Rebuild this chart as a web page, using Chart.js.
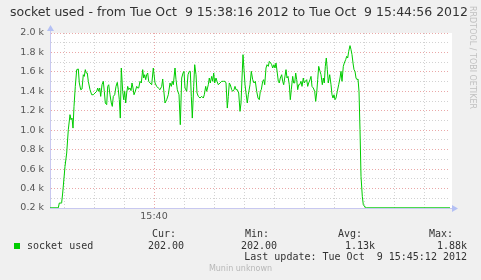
<!DOCTYPE html>
<html>
<head>
<meta charset="utf-8">
<script src="https://cdn.jsdelivr.net/npm/chart.js@4/dist/chart.umd.min.js"></script>
<style>
  html, body { margin: 0; padding: 0; background: #f0f0f0; }
  #grafSock { display: block; }
</style>
</head>
<body>
<canvas id="grafSock" width="481" height="280"></canvas>
<script>
// seconds since 15:38:16
const secs = [
  0, 8.3, 9.3, 11, 11.7, 12.7, 15, 16.7, 18.3, 20,
  21, 22, 23, 24, 25.3, 26.7, 28.3, 29.3, 30.7, 32,
  33.3, 34.3, 35.3, 36.3, 37.3, 38.3, 40, 41.7, 43.3, 45,
  46.7, 47.7, 48.7, 49.7, 50.7, 52, 53.3, 54.3, 55.3, 56.7,
  57.7, 58.7, 60, 61.3, 62.3, 63.3, 64.7, 66, 67.3, 68.3,
  69.3, 70.3, 71.3, 72.7, 73.7, 74.7, 75.7, 76.7, 77.7, 78.7,
  80, 81, 82, 83, 84, 85.3, 86.7, 87.7, 88.7, 90,
  91.3, 92.7, 93.7, 94.7, 95.7, 96.7, 97.7, 98.7, 100, 101.7,
  103.3, 105, 106.7, 108.3, 110, 111.7, 112.7, 114, 115, 116.7,
  118.3, 120, 121.3, 122.3, 123.3, 125, 126, 127.3, 129, 130.3,
  131.7, 133, 134, 135, 136.7, 138, 139.3, 140.3, 141.3, 142.3,
  143.7, 144.7, 146, 147, 148.3, 150, 151.7, 153.3, 154.3, 155.7,
  156.7, 158.3, 159.3, 160.3, 161.7, 162.7, 163.7, 164.7, 166, 167,
  168.3, 170, 171.7, 173.3, 175, 176, 177.3, 178.3, 179.3, 180.3,
  181.7, 182.7, 184, 185, 186, 187.3, 188.7, 190, 191, 192,
  193, 194, 195, 196, 197.3, 198.3, 200, 201.3, 202.7, 204,
  205.3, 206.7, 208, 209.3, 210.3, 211.3, 212.7, 213.7, 214.7, 216,
  217, 218.3, 219.3, 220.7, 221.7, 222.7, 224, 225, 226, 227.3,
  228.3, 229.3, 230.3, 231.7, 232.7, 233.7, 234.7, 236, 237, 238,
  239.3, 240.3, 241.3, 242.7, 243.7, 244.7, 245.7, 246.7, 247.7, 248.7,
  249.7, 251, 252, 253.3, 254.3, 255.3, 256.7, 257.7, 258.7, 260,
  261, 262, 263.3, 264.7, 265.7, 266.7, 267.7, 268.7, 270, 271,
  272.3, 273.3, 274.3, 275.3, 276.3, 277.3, 278.3, 279.7, 281, 282,
  283, 284, 285, 286, 287.3, 288.7, 290, 291, 292, 293.3,
  294.3, 295.7, 296.7, 297.7, 298.7, 300, 301, 302, 303, 304,
  305, 306, 307, 308, 309, 310, 311, 312.3, 313.3, 315,
  316.7, 400
];
const sockets = [
  202, 202, 251, 251, 258, 354, 628, 765, 1005, 1160,
  1108, 1125, 1022, 1245, 1451, 1623, 1630, 1486, 1417, 1424,
  1571, 1554, 1623, 1588, 1588, 1503, 1417, 1365, 1365, 1383,
  1400, 1434, 1400, 1434, 1348, 1468, 1503, 1400, 1280, 1263,
  1451, 1468, 1365, 1280, 1245, 1348, 1365, 1451, 1492, 1417,
  1314, 1125, 1640, 1400, 1314, 1400, 1280, 1383, 1451, 1417,
  1434, 1407, 1486, 1434, 1365, 1400, 1451, 1434, 1434, 1503,
  1486, 1623, 1537, 1571, 1520, 1571, 1588, 1503, 1486, 1468,
  1640, 1486, 1451, 1434, 1417, 1451, 1527, 1383, 1280, 1314,
  1365, 1486, 1451, 1503, 1468, 1640, 1520, 1417, 1365, 1057,
  1537, 1588, 1606, 1434, 1400, 1571, 1606, 1606, 1348, 1125,
  1451, 1674, 1571, 1383, 1348, 1331, 1348, 1331, 1365, 1451,
  1400, 1468, 1537, 1486, 1554, 1503, 1588, 1486, 1537, 1503,
  1468, 1486, 1503, 1503, 1503, 1486, 1228, 1348, 1486, 1468,
  1417, 1400, 1417, 1451, 1417, 1417, 1383, 1194, 1280, 1537,
  1777, 1623, 1468, 1383, 1280, 1365, 1468, 1606, 1520, 1486,
  1503, 1400, 1331, 1314, 1400, 1417, 1503, 1520, 1468, 1640,
  1674, 1657, 1708, 1691, 1674, 1640, 1674, 1640, 1691, 1588,
  1503, 1486, 1537, 1571, 1503, 1468, 1537, 1623, 1537, 1554,
  1468, 1314, 1417, 1554, 1486, 1486, 1588, 1520, 1417, 1468,
  1468, 1503, 1451, 1537, 1486, 1503, 1520, 1451, 1486, 1520,
  1554, 1451, 1434, 1400, 1297, 1383, 1520, 1657, 1606, 1571,
  1468, 1537, 1486, 1657, 1743, 1623, 1486, 1571, 1468, 1365,
  1331, 1365, 1314, 1331, 1400, 1468, 1537, 1606, 1503, 1657,
  1691, 1726, 1760, 1743, 1811, 1870, 1829, 1777, 1691, 1623,
  1606, 1537, 1520, 1527, 1400, 1005, 525, 320, 234, 210,
  202, 202
];

const xTickSecs = [14, 44, 74, 104, 134, 164, 194, 224, 254, 284, 314, 344, 374];
const xTickLabels = ['', '', '', '15:40', '', '', '', '', '', '', '', '', ''];
const yMajor = [200, 400, 600, 800, 1000, 1200, 1400, 1600, 1800, 2000];
const yLabels = ['0.2 k', '0.4 k', '0.6 k', '0.8 k', '1.0 k', '1.2 k', '1.4 k', '1.6 k', '1.8 k', '2.0 k'];

const legCols = ['Cur:', 'Min:', 'Avg:', 'Max:'];
const legVals = ['202.00', '202.00', '1.13k', '1.88k'];

const titulo = 'socket used - from Tue Oct  9 15:38:16 2012 to Tue Oct  9 15:44:56 2012';
const ultimo = 'Last update: Tue Oct  9 15:45:12 2012';

const corLinha = '#00cc00';
const corEixo = '#c8c8f0';
const corSeta = '#b4c0f4';
const corMaior = '#eaa8a8';
const corMenor = '#d2d2d2';

const decor = {
    id: 'decor',
    beforeDraw(chart) {
        const { ctx, chartArea: a } = chart;
        ctx.save();
        ctx.fillStyle = '#f0f0f0';
        ctx.fillRect(0, 0, chart.width, chart.height);
        ctx.fillStyle = '#ffffff';
        ctx.fillRect(a.left, a.top, a.right - a.left + 2, a.bottom - a.top);
        ctx.restore();
    },
    afterDraw(chart) {
        const { ctx, chartArea: a } = chart;
        ctx.save();

        // axis arrows
        ctx.strokeStyle = corEixo;
        ctx.lineWidth = 1;
        ctx.beginPath();
        ctx.moveTo(a.left + 0.5, a.top);
        ctx.lineTo(a.left + 0.5, a.top - 3);
        ctx.moveTo(a.right, a.bottom + 0.5);
        ctx.lineTo(a.right + 3, a.bottom + 0.5);
        ctx.stroke();
        ctx.fillStyle = corSeta;
        ctx.beginPath();
        ctx.moveTo(a.left + 0.5, a.top - 8);
        ctx.lineTo(a.left - 3, a.top - 2);
        ctx.lineTo(a.left + 4, a.top - 2);
        ctx.closePath();
        ctx.fill();
        ctx.beginPath();
        ctx.moveTo(a.right + 8, a.bottom + 0.5);
        ctx.lineTo(a.right + 2, a.bottom - 3);
        ctx.lineTo(a.right + 2, a.bottom + 4);
        ctx.closePath();
        ctx.fill();

        // title
        ctx.fillStyle = '#333333';
        ctx.font = '12.5px "DejaVu Sans"';
        ctx.textAlign = 'center';
        ctx.textBaseline = 'middle';
        ctx.fillText(titulo, 239, 13);

        // side text
        ctx.save();
        ctx.translate(472, 6);
        ctx.rotate(Math.PI / 2);
        ctx.fillStyle = '#c0c0c0';
        ctx.font = '8px "DejaVu Sans"';
        ctx.textAlign = 'left';
        ctx.fillText('RRDTOOL / TOBI OETIKER', 0, 0);
        ctx.restore();

        // legend
        ctx.fillStyle = corLinha;
        ctx.fillRect(14, 243, 6, 6);
        ctx.fillStyle = '#333333';
        ctx.font = '10px "DejaVu Sans Mono"';
        ctx.textAlign = 'left';
        ctx.fillText('socket used', 27, 246);
        const colX = [176, 269, 362, 453];
        const valX = [184, 277, 375, 467];
        ctx.textAlign = 'right';
        legCols.forEach(function(c, i) {
            ctx.fillText(c, colX[i], 234);
            ctx.fillText(legVals[i], valX[i], 246);
        });
        ctx.fillText(ultimo, 467, 257.5);

        ctx.fillStyle = '#b8b8b8';
        ctx.font = '8px "DejaVu Sans"';
        ctx.textAlign = 'center';
        ctx.fillText('Munin unknown', 240.5, 269);
        ctx.restore();
    }
};

function iniGraf() {
    const ctx = document.getElementById('grafSock').getContext('2d');
    window.gSock = new Chart(ctx, {
        type: 'line',
        data: {
            datasets: [{
                label: 'socket used',
                data: secs.map(function(t, i) { return { x: t, y: sockets[i] }; }),
                borderColor: corLinha,
                borderWidth: 1,
                pointRadius: 0,
                tension: 0,
                fill: false
            }]
        },
        options: {
            responsive: false,
            animation: false,
            devicePixelRatio: 1,
            layout: { padding: { top: 33, right: 31, left: 0, bottom: 0 } },
            plugins: {
                legend: { display: false },
                tooltip: { enabled: false },
                title: { display: false }
            },
            scales: {
                x: {
                    type: 'linear',
                    min: 0,
                    max: 400,
                    afterFit: function(s) { s.height = 72; },
                    afterBuildTicks: function(s) {
                        s.ticks = xTickSecs.map(function(v) { return { value: v }; });
                    },
                    ticks: {
                        autoSkip: false,
                        maxRotation: 0,
                        padding: 3,
                        color: '#555555',
                        font: { family: 'DejaVu Sans', size: 9.5 },
                        callback: function(v, i) { return xTickLabels[i]; }
                    },
                    grid: {
                        drawTicks: false,
                        lineWidth: 1,
                        color: function(c) { return c.tick && c.tick.value === 104 ? corMaior : corMenor; }
                    },
                    border: { color: corEixo, width: 1, dash: [1, 2] }
                },
                y: {
                    min: 200,
                    max: 2000,
                    afterFit: function(s) { s.width = 50; },
                    ticks: {
                        stepSize: 100,
                        autoSkip: false,
                        padding: 6,
                        color: '#555555',
                        font: { family: 'DejaVu Sans', size: 9.5 },
                        callback: function(v) {
                            const i = yMajor.indexOf(v);
                            return i < 0 ? '' : yLabels[i];
                        }
                    },
                    grid: {
                        drawTicks: false,
                        lineWidth: 1,
                        color: function(c) { return c.tick && c.tick.value % 200 === 0 ? corMaior : corMenor; }
                    },
                    border: { color: corEixo, width: 1, dash: [1, 2] }
                }
            }
        },
        plugins: [decor]
    });
}

document.addEventListener('DOMContentLoaded', iniGraf);
</script>
</body>
</html>
